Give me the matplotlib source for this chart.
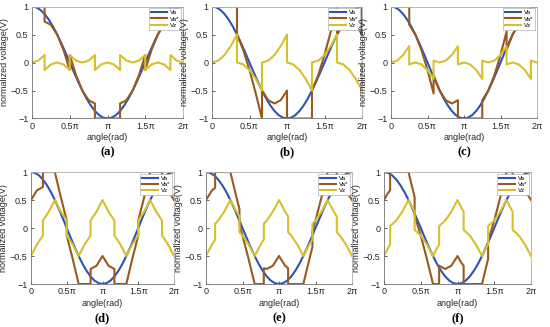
import numpy as np
import matplotlib
matplotlib.use("Agg")
import matplotlib.pyplot as plt

# ---------------- data (angles in degrees) ----------------
va_ang = list(range(0, 361, 10))
va_val = [1, .985, .940, .866, .766, .643, .5, .342, .174, 0,
          -.174, -.342, -.5, -.643, -.766, -.866, -.940, -.985, -1,
          -.985, -.940, -.866, -.766, -.643, -.5, -.342, -.174, 0,
          .174, .342, .5, .643, .766, .866, .940, .985, 1]

# (a)
ang_a = [0, 15, 30, 30, 45, 60, 75, 90, 90, 105, 120, 135, 150, 150, 165, 180,
         195, 210, 210, 225, 240, 255, 270, 270, 285, 300, 315, 330, 330, 345, 360]
vz_a = [0, .034, .134, -.134, -.034, 0, -.034, -.134, .134, .034, 0, .034, .134,
        -.134, -.034, 0, -.034, -.134, .134, .034, 0, .034, .134, -.134, -.034, 0,
        -.034, -.134, .134, .034, 0]
vs_a = [1, 1, 1, .732, .673, .5, .225, -.134, .134, -.225, -.5, -.673, -.732,
        -1, -1, -1, -1, -1, -.732, -.673, -.5, -.225, .134, -.134, .225, .5,
        .673, .732, 1, 1, 1]

# (b)
ang_b = [0, 15, 30, 45, 60, 60, 75, 90, 105, 120, 120, 135, 150, 165, 180,
         180, 195, 210, 225, 240, 240, 255, 270, 285, 300, 300, 315, 330, 345, 360, 360]
vz_b = [0, .034, .134, .293, .5, 0, -.034, -.134, -.293, -.5, 0, .034, .134, .293, .5,
        0, -.034, -.134, -.293, -.5, 0, .034, .134, .293, .5, 0, -.034, -.134, -.293, -.5, 0]
vs_b = [1, 1, 1, 1, 1, .5, .225, -.134, -.552, -1, -.5, -.673, -.732, -.673, -.5,
        -1, -1, -1, -1, -1, -.5, -.225, .134, .552, 1, .5, .673, .732, .673, .5, 1]

# (c)
ang_c = [0, 15, 30, 45, 45, 60, 75, 90, 105, 105, 120, 135, 150, 165,
         165, 180, 195, 210, 225, 225, 240, 255, 270, 285, 285, 300, 315, 330, 345, 345, 360]
vz_c = [0, .034, .134, .293, -.034, 0, -.034, -.134, -.293, .034, 0, .034, .134, .293,
        -.034, 0, -.034, -.134, -.293, .034, 0, .034, .134, .293, -.034, 0, -.034, -.134, -.293, .034, 0]
vs_c = [1, 1, 1, 1, .673, .5, .225, -.134, -.552, -.225, -.5, -.673, -.732, -.673,
        -1, -1, -1, -1, -1, -.673, -.5, -.225, .134, .552, .225, .5, .673, .732, .673, 1, 1]

# (d)
ang_d = [0, 15, 30, 30, 45, 60, 75, 90, 90, 105, 120, 135, 150, 150, 165, 180, 195, 210,
         210, 225, 240, 255, 270, 270, 285, 300, 315, 330, 330, 345, 360]
vz_d = [-.5, -.293, -.134, .134, .293, .5, .293, .134, -.134, -.293, -.5, -.293, -.134,
        .134, .293, .5, .293, .134, -.134, -.293, -.5, -.293, -.134, .134, .293, .5, .293, .134,
        -.134, -.293, -.5]
vs_d = [.5, .673, .732, 1, 1, 1, .552, .134, -.134, -.552, -1, -1, -1,
        -.732, -.673, -.5, -.673, -.732, -1, -1, -1, -.552, -.134, .134, .552, 1, 1, 1,
        .732, .673, .5]

# (e)
ang_e = [0, 15, 22.5, 22.5, 30, 45, 60, 75, 82.5, 82.5, 90, 105, 120, 135, 142.5,
         142.5, 150, 165, 180, 195, 202.5, 202.5, 210, 225, 240, 255, 262.5,
         262.5, 270, 285, 300, 315, 322.5, 322.5, 330, 345, 360]
vz_e = [-.5, -.293, -.207, .076, .134, .293, .5, .293, .207, -.076, -.134, -.293, -.5, -.293, -.207,
        .076, .134, .293, .5, .293, .207, -.076, -.134, -.293, -.5, -.293, -.207,
        .076, .134, .293, .5, .293, .207, -.076, -.134, -.293, -.5]
vs_e = [.5, .673, .717, 1, 1, 1, 1, .552, .337, .054, -.134, -.552, -1, -1, -1,
        -.717, -.732, -.673, -.5, -.673, -.717, -1, -1, -1, -1, -.552, -.337,
        -.054, .134, .552, 1, 1, 1, .717, .732, .673, .5]

# (f)
ang_f = [0, 7.5, 15, 15, 30, 45, 60, 67.5, 75, 75, 90, 105, 120, 127.5, 135,
         135, 150, 165, 180, 187.5, 195, 195, 210, 225, 240, 247.5, 255,
         255, 270, 285, 300, 307.5, 315, 315, 330, 345, 360]
vz_f = [-.5, -.391, -.293, .034, .134, .293, .5, .391, .293, -.034, -.134, -.293, -.5, -.391, -.293,
        .034, .134, .293, .5, .391, .293, -.034, -.134, -.293, -.5, -.391, -.293,
        .034, .134, .293, .5, .391, .293, -.034, -.134, -.293, -.5]
vs_f = [.5, .600, .673, 1, 1, 1, 1, .774, .552, .225, -.134, -.552, -1, -1, -1,
        -.673, -.732, -.673, -.5, -.600, -.673, -1, -1, -1, -1, -.774, -.552,
        -.225, .134, .552, 1, 1, 1, .673, .732, .673, .5]

panels = [
    ("(a)", ang_a, vs_a, vz_a),
    ("(b)", ang_b, vs_b, vz_b),
    ("(c)", ang_c, vs_c, vz_c),
    ("(d)", ang_d, vs_d, vz_d),
    ("(e)", ang_e, vs_e, vz_e),
    ("(f)", ang_f, vs_f, vz_f),
]

xticks_lbl = ["0", "0.5\u03c0", "\u03c0", "1.5\u03c0", "2\u03c0"]
yticks_val = [-1, -0.5, 0, 0.5, 1]
yticks_lbl = ["\u22121", "\u22120.5", "0", "0.5", "1"]

# ---------------- style ----------------
C_VA = "#2f52b8"
C_VS = "#985a1e"
C_VZ = "#d6c02c"

W, H = 550, 327
fig = plt.figure(figsize=(W / 100, H / 100), dpi=100)

# axes boxes in pixels: (left, right, top, bottom)
boxes = [
    (32, 183, 6.5, 118.5),
    (212, 362, 6.5, 118.5),
    (391, 537, 6.5, 118.5),
    (31, 174, 172, 284),
    (206, 352, 172, 284),
    (384, 531, 172, 284),
]

plt.rcParams["font.family"] = ["Liberation Sans", "DejaVu Sans"]
fs = 6.5

for (cap, ang, vs, vz), (l, r, t, b) in zip(panels, boxes):
    ax = fig.add_axes([l / W, 1 - b / H, (r - l) / W, (b - t) / H])
    ax.plot(np.deg2rad(va_ang), va_val, color=C_VA, lw=1.5, label="Va")
    ax.plot(np.deg2rad(ang), vs, color=C_VS, lw=1.5, label="Va*")
    ax.plot(np.deg2rad(ang), vz, color=C_VZ, lw=1.5, label="Vz")
    ax.set_xlim(0, 2 * np.pi)
    ax.set_ylim(-1, 1)
    ax.set_xticks([0, np.pi / 2, np.pi, 1.5 * np.pi, 2 * np.pi])
    ax.set_xticklabels(xticks_lbl, fontsize=fs)
    ax.set_yticks(yticks_val)
    ax.set_yticklabels(yticks_lbl, fontsize=fs)
    ax.tick_params(direction="in", length=2, width=0.5, pad=2.5, colors="#262626")
    for s in ax.spines.values():
        s.set_linewidth(0.6)
        s.set_color("#b0b0b0")
    ax.spines["left"].set_color("#707070")
    ax.spines["bottom"].set_color("#707070")
    ax.set_xlabel("angle(rad)", fontsize=fs, labelpad=1.5, color="#262626")
    ax.set_ylabel("normalized voltage(V)", fontsize=fs, labelpad=1.5, color="#262626")
    leg = ax.legend(loc="upper right", fontsize=4.4, handlelength=2.6, borderpad=0.3,
                    labelspacing=0.15, handletextpad=0.5, fancybox=False, framealpha=1,
                    edgecolor="#b0b0b0", borderaxespad=0.3)
    leg.get_frame().set_linewidth(0.5)
    cx = (l + r) / 2
    cy = b + 34
    fig.text(cx / W, 1 - cy / H, cap, ha="center", va="center", fontsize=9,
             fontweight="bold", family="Liberation Serif")

fig.savefig("out.png", dpi=100)
